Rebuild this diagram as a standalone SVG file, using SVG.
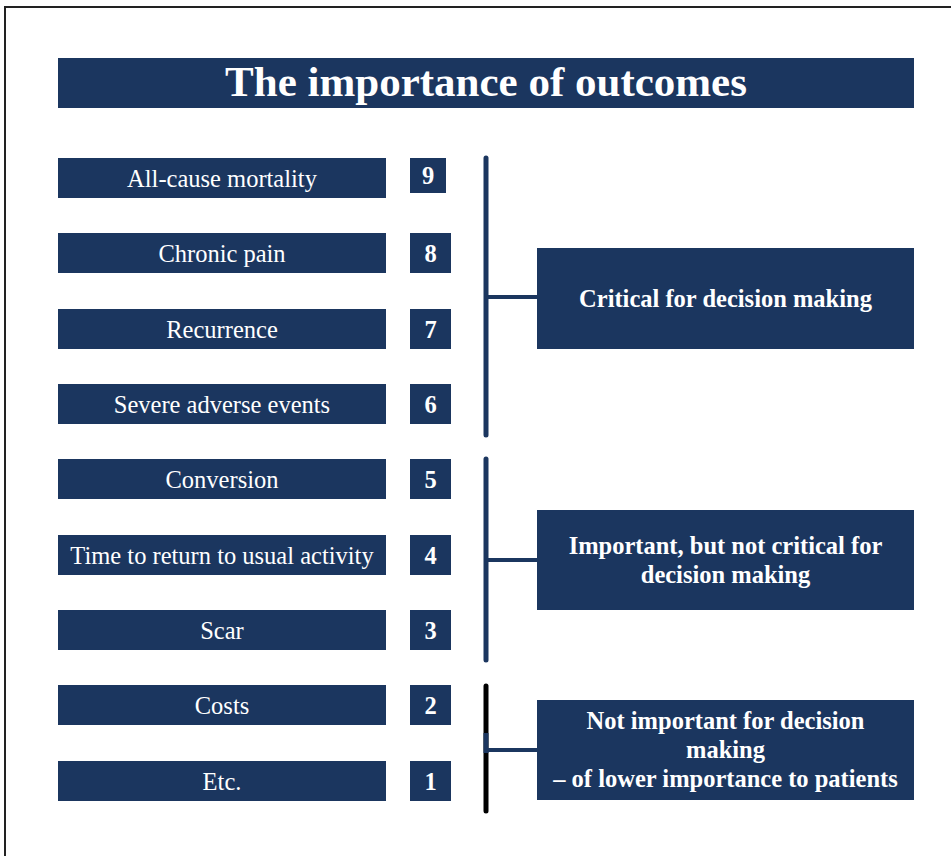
<svg xmlns="http://www.w3.org/2000/svg" width="951" height="856" viewBox="0 0 951 856">
<style>
.box{fill:#1b365f}
.lbl{font-family:"Liberation Serif","Times New Roman",serif;font-size:24.5px;fill:#ffffff;text-anchor:middle}
.b{font-weight:bold}
.ln{stroke:#1b365f;stroke-width:5;stroke-linecap:round;fill:none}
.hl{stroke:#1b365f;stroke-width:4;fill:none}
</style>
<rect x="0" y="0" width="951" height="856" fill="#ffffff"/>
<path d="M5,856 V7 H951" fill="none" stroke="#222222" stroke-width="2"/>
<g id="title">
<rect class="box" x="58" y="58" width="856" height="50"/>
<text class="lbl b" x="486" y="96" style="font-size:43px">The importance of outcomes</text>
</g>
<g id="o9"><rect class="box" x="58" y="158" width="328" height="40"/><text class="lbl" x="222" y="187">All-cause mortality</text></g>
<g id="n9"><rect class="box" x="410" y="158" width="36" height="35"/><text class="lbl b" x="428" y="184">9</text></g>
<g id="o8"><rect class="box" x="58" y="233" width="328" height="40"/><text class="lbl" x="222" y="262">Chronic pain</text></g>
<g id="n8"><rect class="box" x="410" y="233" width="41" height="40"/><text class="lbl b" x="430.5" y="262">8</text></g>
<g id="o7"><rect class="box" x="58" y="309" width="328" height="40"/><text class="lbl" x="222" y="338">Recurrence</text></g>
<g id="n7"><rect class="box" x="410" y="309" width="41" height="40"/><text class="lbl b" x="430.5" y="338">7</text></g>
<g id="o6"><rect class="box" x="58" y="384" width="328" height="40"/><text class="lbl" x="222" y="413">Severe adverse events</text></g>
<g id="n6"><rect class="box" x="410" y="384" width="41" height="40"/><text class="lbl b" x="430.5" y="413">6</text></g>
<g id="o5"><rect class="box" x="58" y="459" width="328" height="40"/><text class="lbl" x="222" y="488">Conversion</text></g>
<g id="n5"><rect class="box" x="410" y="459" width="41" height="40"/><text class="lbl b" x="430.5" y="488">5</text></g>
<g id="o4"><rect class="box" x="58" y="535" width="328" height="40"/><text class="lbl" x="222" y="564">Time to return to usual activity</text></g>
<g id="n4"><rect class="box" x="410" y="535" width="41" height="40"/><text class="lbl b" x="430.5" y="564">4</text></g>
<g id="o3"><rect class="box" x="58" y="610" width="328" height="40"/><text class="lbl" x="222" y="639">Scar</text></g>
<g id="n3"><rect class="box" x="410" y="610" width="41" height="40"/><text class="lbl b" x="430.5" y="639">3</text></g>
<g id="o2"><rect class="box" x="58" y="685" width="328" height="40"/><text class="lbl" x="222" y="714">Costs</text></g>
<g id="n2"><rect class="box" x="410" y="685" width="41" height="40"/><text class="lbl b" x="430.5" y="714">2</text></g>
<g id="o1"><rect class="box" x="58" y="761" width="328" height="40"/><text class="lbl" x="222" y="790">Etc.</text></g>
<g id="n1"><rect class="box" x="410" y="761" width="41" height="40"/><text class="lbl b" x="430.5" y="790">1</text></g>
<g id="connectors">
<line class="ln" x1="486" y1="158" x2="486" y2="435"/>
<line class="hl" x1="486" y1="297" x2="537" y2="297"/>
<line class="ln" x1="486" y1="459" x2="486" y2="660"/>
<line class="hl" x1="486" y1="560" x2="537" y2="560"/>
<line x1="486" y1="686" x2="486" y2="811" stroke="#000000" stroke-width="5" stroke-linecap="round"/>
<line x1="486" y1="733" x2="486" y2="753" stroke="#1b365f" stroke-width="5"/>
<line class="hl" x1="486" y1="750" x2="537" y2="750"/>
</g>
<g id="critical"><rect class="box" x="537" y="248" width="377" height="101"/><text class="lbl b" x="725.5" y="307">Critical for decision making</text></g>
<g id="important"><rect class="box" x="537" y="510" width="377" height="100"/><text class="lbl b" x="725.5" y="554">Important, but not critical for</text><text class="lbl b" x="725.5" y="583">decision making</text></g>
<g id="notimportant"><rect class="box" x="537" y="700" width="377" height="100"/><text class="lbl b" x="725.5" y="729">Not important for decision</text><text class="lbl b" x="725.5" y="758">making</text><text class="lbl b" x="725.5" y="787">– of lower importance to patients</text></g>
</svg>
